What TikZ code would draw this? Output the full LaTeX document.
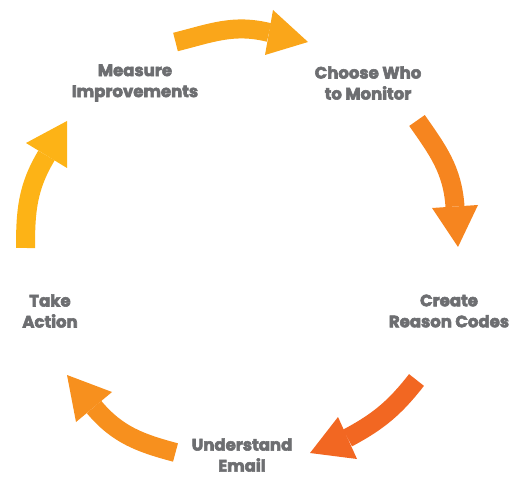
\documentclass[tikz,border=0pt]{standalone}
\usepackage{fontspec}
\setmainfont{Poppins}[BoldFeatures={FakeBold=3.5}]
\definecolor{txtgray}{HTML}{6D6E71}
\definecolor{cA}{HTML}{FAA61A}
\definecolor{cB}{HTML}{F6851F}
\definecolor{cC}{HTML}{F26722}
\definecolor{cD}{HTML}{F7901E}
\definecolor{cE}{HTML}{FDB316}
\begin{document}
\begin{tikzpicture}[x=1pt,y=1pt,
  lbl/.style={align=center,text=txtgray,font=\fontsize{16.5}{21}\selectfont\bfseries,inner sep=0pt},
  body/.style={line width=19pt,line cap=butt}]
\useasboundingbox (0,0) rectangle (526,476);
% labels
\node[lbl] (measure) at (135,393) {Measure\\Improvements};
\node[lbl] (choose) at (368,393) {Choose Who\\to Monitor};
\node[lbl] (create) at (449,165) {Create\\Reason Codes};
\node[lbl] (understand) at (242,21) {Understand\\Email};
\node[lbl] (take) at (50,165) {Take\\Action};
% arrow 1 (top)
\coordinate (t1) at (175.5,434);
\coordinate (m1) at (269,443.5);
\coordinate (a1) at (273,466);
\coordinate (b1) at (265,421);
\coordinate (p1) at (308,434);
\draw[body,cA] (t1) to[out=14,in=166] (m1);
\fill[cA] (a1) -- (p1) -- (b1) -- cycle;
% arrow 2 (right top)
\coordinate (t2) at (417,355.5);
\coordinate (m2) at (455,269.5);
\coordinate (a2) at (432,268);
\coordinate (b2) at (478,271);
\coordinate (p2) at (458,229);
\draw[body,cB] (t2) to[out=-55,in=94] (m2);
\fill[cB] (a2) -- (p2) -- (b2) -- cycle;
% arrow 3 (bottom right)
\coordinate (t3) at (416.5,96);
\coordinate (m3) at (347.5,38);
\coordinate (a3) at (338,59);
\coordinate (b3) at (357,17);
\coordinate (p3) at (310,23);
\draw[body,cC] (t3) to[out=-128,in=28] (m3);
\fill[cC] (a3) -- (p3) -- (b3) -- cycle;
% arrow 4 (bottom left)
\coordinate (t4) at (175.5,23.5);
\coordinate (m4) at (94,69);
\coordinate (a4) at (112,84);
\coordinate (b4) at (76,54);
\coordinate (p4) at (67,101);
\draw[body,cD] (t4) to[out=165,in=310] (m4);
\fill[cD] (a4) -- (p4) -- (b4) -- cycle;
% arrow 5 (left)
\coordinate (t5) at (25.5,228);
\coordinate (m5) at (46.5,320.5);
\coordinate (a5) at (26,333);
\coordinate (b5) at (67,308);
\coordinate (p5) at (67,355);
\draw[body,cE] (t5) to[out=90,in=239] (m5);
\fill[cE] (a5) -- (p5) -- (b5) -- cycle;
\end{tikzpicture}
\end{document}
